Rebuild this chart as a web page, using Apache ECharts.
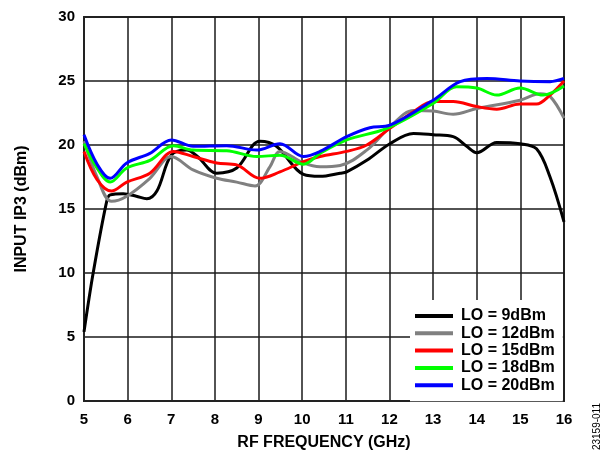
<!DOCTYPE html>
<html>
<head>
<meta charset="utf-8">
<script src="https://cdn.jsdelivr.net/npm/echarts@6/dist/echarts.min.js"></script>
<style>html,body{margin:0;padding:0;background:#fff;}#c{width:607px;height:453px;}</style>
</head>
<body>
<div id="c"></div>
<script>
const seriesNames = ['LO = 9dBm', 'LO = 12dBm', 'LO = 15dBm', 'LO = 18dBm', 'LO = 20dBm'];
const seriesColors = ['#000000', '#808080', '#ff0000', '#00ff00', '#0000ff'];
const xTicks = [5, 6, 7, 8, 9, 10, 11, 12, 13, 14, 15, 16];
const yTicks = [0, 5, 10, 15, 20, 25, 30];

const lo9 = [[5,5.4],[5.21,10.0],[5.52,15.6],[5.6,16.1],[5.9,16.2],[6.2,16.0],[6.44,15.8],[6.67,16.4],[7.0,19.2],[7.35,19.6],[7.6,19.1],[8.04,17.8],[8.5,18.2],[9.03,20.3],[9.41,19.9],[10.03,17.7],[10.41,17.55],[10.87,17.8],[11.02,17.9],[11.48,18.8],[12.01,20.1],[12.55,20.9],[13.0,20.8],[13.46,20.65],[13.77,19.9],[14.0,19.4],[14.46,20.2],[14.99,20.1],[15.37,19.7],[15.68,17.5],[16,14.0]];
const lo12 = [[5,20.3],[5.3,17.5],[5.63,15.6],[5.98,16.0],[6.51,17.4],[7.0,19.1],[7.5,18.05],[8.04,17.4],[8.5,17.1],[8.92,16.8],[9.26,18.3],[9.49,19.5],[10.03,18.6],[10.41,18.3],[10.87,18.4],[11.48,19.6],[12.01,21.4],[12.55,22.7],[13.0,22.65],[13.46,22.4],[14.0,22.85],[14.99,23.5],[15.45,24.0],[15.68,23.8],[16,22.1]];
const lo15 = [[5,19.5],[5.3,17.3],[5.63,16.4],[5.98,17.1],[6.51,17.8],[7.05,19.5],[7.5,19.1],[8.04,18.6],[8.5,18.45],[9.03,17.4],[9.49,17.9],[10.03,18.7],[10.41,19.1],[11.02,19.5],[11.48,20.0],[12.01,21.3],[12.55,22.6],[13.0,23.4],[13.46,23.4],[14.0,23.0],[14.46,22.8],[14.99,23.2],[15.37,23.2],[15.68,23.9],[16,25.0]];
const lo18 = [[5,20.1],[5.3,18.2],[5.6,17.1],[5.98,18.2],[6.51,18.8],[7.05,19.95],[7.5,19.6],[8.27,19.55],[8.96,19.1],[9.49,19.2],[10.03,18.5],[10.41,19.35],[11.02,20.4],[11.94,21.3],[13.0,23.25],[13.54,24.55],[14.0,24.45],[14.46,23.9],[14.99,24.45],[15.52,23.9],[16,24.6]];
const lo20 = [[5,20.8],[5.3,18.5],[5.6,17.4],[5.98,18.6],[6.51,19.35],[7.0,20.4],[7.5,19.9],[8.27,19.95],[8.96,19.6],[9.49,20.1],[10.03,19.1],[10.41,19.5],[11.02,20.65],[11.55,21.35],[12.01,21.55],[13.0,23.5],[13.62,24.95],[14.23,25.2],[14.99,25.0],[15.68,24.95],[16,25.2]];
const allData = [lo9, lo12, lo15, lo18, lo20];

const chart = echarts.init(document.getElementById('c'), null, {renderer: 'canvas'});
const font = 'Liberation Sans, Arial, sans-serif';
chart.setOption({
  animation: false,
  backgroundColor: '#fff',
  grid: {left: 84, right: 43, top: 17, bottom: 52, containLabel: false, outerBoundsMode: 'none', show: true, borderColor: '#3a3a3a', borderWidth: 2, backgroundColor: 'transparent'},
  xAxis: {
    type: 'value', min: xTicks[0], max: xTicks[xTicks.length-1], interval: 1,
    name: 'RF FREQUENCY (GHz)', nameLocation: 'middle', nameGap: 34,
    nameTextStyle: {fontFamily: font, fontWeight: 'bold', fontSize: 16, color: '#000'},
    axisLine: {show: true, lineStyle: {color: '#222', width: 2}},
    axisTick: {show: false},
    axisLabel: {fontFamily: font, fontWeight: 'bold', fontSize: 15, color: '#000', margin: 11},
    splitLine: {show: true, lineStyle: {color: '#1a1a1a', width: 1.5}}
  },
  yAxis: {
    type: 'value', min: yTicks[0], max: yTicks[yTicks.length-1], interval: 5,
    name: 'INPUT IP3 (dBm)', nameLocation: 'middle', nameGap: 54,
    nameTextStyle: {fontFamily: font, fontWeight: 'bold', fontSize: 16, color: '#000'},
    axisLine: {show: true, lineStyle: {color: '#222', width: 2}},
    axisTick: {show: false},
    axisLabel: {fontFamily: font, fontWeight: 'bold', fontSize: 15, color: '#000', margin: 9},
    splitLine: {show: true, lineStyle: {color: '#1a1a1a', width: 1.5}}
  },
  legend: {
    orient: 'vertical', left: 410, top: 300,
    backgroundColor: '#fff', padding: [8, 8, 8, 5],
    itemWidth: 38, itemHeight: 4, itemGap: 1.3, icon: 'rect',
    textStyle: {fontFamily: font, fontWeight: 'bold', fontSize: 16, color: '#000', lineHeight: 16, padding: [0,0,0,3]},
    data: seriesNames
  },
  graphic: [{
    type: 'text', left: 592, top: 403, rotation: Math.PI/2,
    style: {text: '23159-011', fontFamily: font, fontSize: 10, fill: '#000'}
  }],
  series: allData.map((d, i) => ({
    name: seriesNames[i], type: 'line', data: d, smooth: 0.35,
    showSymbol: false, symbol: 'none', z: 3 + i,
    lineStyle: {color: seriesColors[i], width: 3},
    itemStyle: {color: seriesColors[i]}
  }))
});
</script>
</body>
</html>
